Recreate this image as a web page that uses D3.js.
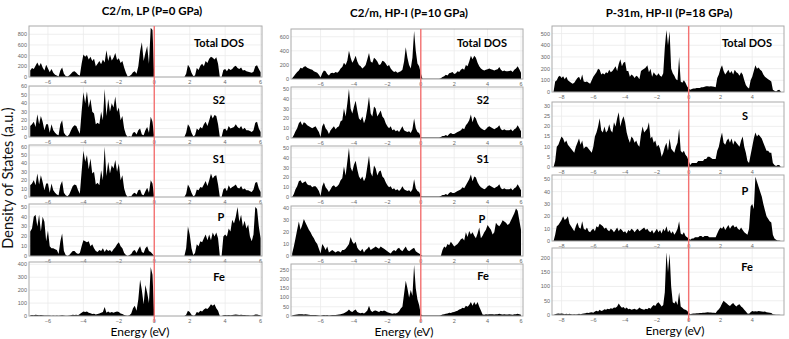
<!DOCTYPE html>
<html>
<head>
<meta charset="utf-8">
<script src="https://cdn.jsdelivr.net/npm/d3@7"></script>
<style>
  body { margin: 0; background: #fff; }
  svg text { font-family: Lato, "Open Sans", sans-serif; }
  .tick-lab { font-family: "Liberation Sans", sans-serif; font-size: 5.5px; fill: #666; }
</style>
</head>
<body>
<div id="root"></div>
<script>
// titles and labels
const colTitles = ["C2/m, LP (P=0 GPa)", "C2/m, HP-I (P=10 GPa)", "P-31m, HP-II (P=18 GPa)"];
const panelNames1 = ["Total DOS", "S2", "S1", "P", "Fe"];
const panelNames2 = ["Total DOS", "S2", "S1", "P", "Fe"];
const panelNames3 = ["Total DOS", "S", "P", "Fe"];
const yLabel = "Density of States (a.u.)";
const xLabel = "Energy (eV)";

// energy grid: first energy of each column, 0.1 eV step
const eStart = [-7.0, -7.7, -8.5];
const eStep = 0.1;

const xTicks1 = [-6, -4, -2, 0, 2, 4, 6];
const xTicks2 = [-6, -4, -2, 0, 2, 4, 6];
const xTicks3 = [-8, -6, -4, -2, 0, 2, 4];

const yTicks1 = [[0, 200, 400, 600, 800], [0, 10, 20, 30, 40, 50, 60], [0, 10, 20, 30, 40, 50, 60], [0, 10, 20, 30, 40, 50], [0, 100, 200, 300, 400]];
const yTicks2 = [[0, 200, 400, 600], [0, 10, 20, 30, 40, 50], [0, 10, 20, 30, 40, 50], [0, 10, 20, 30, 40], [0, 50, 100, 150, 200, 250]];
const yTicks3 = [[0, 100, 200, 300, 400, 500], [0, 5, 10, 15, 20, 25, 30], [0, 10, 20, 30, 40, 50], [0, 50, 100, 150, 200]];

// ---- column 1: C2/m LP, -7.0 .. 6.0 eV
const tdos1 = [120,170,150,210,270,200,260,180,120,230,
  160,90,150,80,40,30,10,120,180,60,
  20,10,30,60,100,110,80,40,30,250,
  420,380,410,330,380,300,340,200,250,300,
  240,330,270,500,300,420,310,360,450,320,
  350,260,300,180,80,10,20,40,90,110,
  60,200,480,650,300,450,580,250,920,880,
  0,
  0,0,0,0,0,0,0,0,0,0,0,0,0,0,0,0,0,
  60,230,180,80,20,30,170,130,210,250,
  200,300,260,340,380,360,330,370,250,0,
  0,130,150,110,160,130,150,190,210,170,
  150,180,120,130,110,100,90,80,100,200,
  220,150,90];
const s2dos1 = [13,15,18,12,27,15,25,18,8,15,
  15,5,15,8,5,3,2,15,20,5,
  2,1,3,8,12,14,13,8,4,30,
  53,40,54,35,45,30,28,15,17,15,
  30,20,57,25,45,30,40,35,48,30,
  35,20,25,10,3,0,1,0,5,6,
  3,8,10,3,2,8,12,5,24,18,
  0,
  0,0,0,0,0,0,0,0,0,0,0,0,0,0,0,0,0,
  5,15,12,5,1,2,10,8,12,10,
  15,18,13,20,27,22,26,25,15,0,
  0,9,10,7,13,10,11,12,15,12,
  10,13,9,11,8,8,7,6,8,17,
  18,10,6];
const s1dos1 = [14,16,20,14,28,15,26,18,8,16,
  16,5,16,8,5,3,2,14,19,5,
  2,1,3,8,13,15,14,8,4,30,
  55,42,50,33,46,28,30,15,17,14,
  32,20,60,25,42,28,38,34,44,30,
  40,20,26,10,3,0,1,1,4,5,
  3,8,9,3,2,7,11,5,20,16,
  0,
  0,0,0,0,0,0,0,0,0,0,0,0,0,0,0,0,0,
  4,15,11,5,1,2,9,8,12,11,
  15,19,13,20,28,22,25,26,15,0,
  0,9,11,7,14,10,12,13,15,11,
  10,13,9,10,8,8,7,6,9,17,
  18,10,6];
const pdos1 = [25,28,40,42,30,42,25,40,35,15,
  26,10,8,8,7,6,2,15,23,5,
  1,0,1,3,5,5,3,2,3,10,
  16,15,14,15,10,12,8,5,4,6,
  5,8,4,7,5,6,4,7,9,12,
  14,10,8,3,1,0,1,2,5,6,
  3,7,10,4,3,8,10,5,4,2,
  0,
  0,0,0,0,0,0,0,0,0,0,0,0,0,0,0,0,0,
  8,30,22,8,1,3,12,10,15,14,
  18,22,16,22,16,24,20,24,18,0,
  0,20,22,20,28,25,37,33,40,50,
  35,42,30,36,28,32,20,15,22,50,
  48,30,18];
const fedos1 = [5,8,6,10,8,6,8,5,4,3,
  4,3,2,3,2,3,2,4,5,3,
  2,2,4,6,10,8,10,6,15,25,
  35,30,35,25,22,15,18,12,15,20,
  25,30,70,25,35,25,30,25,30,35,
  30,20,15,8,3,2,5,20,60,80,
  40,130,280,200,90,240,180,100,380,320,
  0,
  0,0,0,0,0,0,0,0,0,0,0,0,0,0,0,0,0,
  10,40,30,10,2,5,30,25,40,35,
  50,60,55,70,90,80,90,60,40,0,
  0,5,8,5,7,6,8,10,12,10,
  8,10,8,7,6,5,4,4,6,12,
  12,8,5];

// ---- column 2: C2/m HP-I, -7.7 .. 6.0 eV
const tdos2 = [10,40,70,100,120,160,150,
  175,180,160,150,140,130,110,100,90,60,
  20,80,120,110,70,50,80,90,80,100,
  90,110,150,170,230,200,260,400,300,230,
  270,330,250,200,180,150,170,200,280,370,
  250,230,300,280,250,200,210,260,250,220,
  180,200,150,120,100,110,90,100,110,130,
  250,450,300,200,150,300,680,400,220,180,
  80,
  5,5,5,5,5,5,5,5,5,5,5,
  10,30,40,60,50,80,90,100,
  70,80,110,100,130,150,130,200,180,250,
  330,280,330,300,230,180,150,130,120,130,
  140,150,140,130,120,130,140,170,130,110,
  120,110,110,115,120,100,130,150,180,140,
  90];
const s2dos2 = [0,3,7,10,15,17,13,
  16,15,13,12,11,10,11,12,9,6,
  1,12,15,10,8,4,8,10,12,9,
  11,12,17,18,30,22,35,50,30,25,
  32,38,28,20,18,22,15,20,30,42,
  25,22,32,30,22,25,28,22,20,15,
  12,10,12,8,9,7,8,6,9,12,
  8,7,6,7,5,9,20,10,6,5,
  1,
  0.5,0.5,0.5,0.5,0.5,0.5,0.5,0.5,0.5,0.5,0.5,
  1,2,2,3,2,4,5,4,
  4,5,6,7,8,10,9,13,15,18,
  24,16,22,20,15,12,10,9,8,9,
  11,12,11,10,9,10,11,13,9,8,
  9,8,8,8,9,7,9,10,13,10,
  7];
const s1dos2 = [0,3,8,11,16,17,14,
  15,16,13,12,12,10,11,11,9,6,
  1,11,15,10,8,5,8,11,12,10,
  11,13,17,19,31,22,36,50,30,26,
  33,37,28,21,18,21,16,20,31,42,
  25,21,32,29,22,26,27,21,19,15,
  12,10,11,8,9,7,8,6,8,11,
  8,7,6,7,5,8,18,9,6,5,
  1,
  0.5,0.5,0.5,0.5,0.5,0.5,0.5,0.5,0.5,0.5,0.5,
  1,2,2,3,2,4,5,4,
  4,5,6,7,8,10,9,12,15,18,
  23,16,21,20,15,12,10,9,8,9,
  11,12,11,10,9,10,11,13,9,8,
  9,8,8,8,9,7,9,10,13,10,
  7];
const pdos2 = [2,8,15,22,29,22,26,
  31,28,25,22,20,17,15,12,10,6,
  2,10,8,5,8,3,4,5,4,3,
  4,4,3,5,5,6,8,10,16,12,
  10,12,7,5,4,6,3,5,6,8,
  5,6,7,8,7,6,8,7,6,5,
  4,3,2,4,5,4,6,7,5,4,
  6,8,5,4,5,6,7,4,3,2,
  1,
  0,0,0,0,0,0,0,0,0,0,0,
  0,5,8,7,10,9,12,10,
  8,9,10,12,14,15,13,20,16,21,
  18,20,17,15,19,24,15,17,20,22,
  26,24,22,18,20,28,26,25,27,30,
  29,28,26,27,30,33,36,40,38,30,
  22];
const fedos2 = [3,5,7,8,9,10,9,
  8,10,8,7,6,5,6,5,4,3,
  2,4,5,4,5,3,4,5,6,5,
  7,8,10,12,15,20,25,35,25,22,
  30,35,22,18,15,18,14,20,30,55,
  30,22,28,30,25,22,28,25,30,25,
  20,18,15,12,15,14,18,25,40,50,
  120,190,150,100,140,110,275,150,90,60,
  10,
  3,3,3,3,3,3,3,3,3,3,3,
  4,8,10,12,14,18,16,20,
  22,25,28,35,38,45,42,55,50,60,
  75,55,75,60,75,50,30,8,7,9,
  8,10,9,10,8,9,10,12,9,8,
  9,8,8,9,8,7,9,10,12,10,
  7];

// ---- column 3: P-31m HP-II, -8.5 .. 5.8 eV
const tdos3 = [5,90,100,130,140,
  120,135,110,130,100,90,80,70,80,100,
  120,130,100,150,90,85,90,80,70,100,
  130,150,170,200,190,150,160,150,170,160,
  190,170,180,200,220,180,240,280,220,250,
  260,180,180,130,150,140,120,140,130,110,
  180,190,200,210,230,170,200,130,170,150,
  140,160,140,130,160,380,530,400,520,200,
  160,140,110,100,300,90,80,100,80,50,
  30,20,25,30,30,35,35,35,40,40,
  45,50,50,48,50,48,45,40,120,150,
  200,230,180,150,170,190,160,180,150,190,
  170,160,140,170,150,100,60,40,30,100,
  130,180,230,200,210,190,180,150,130,120,
  110,100,90,20,10,5,15,20,5];
const sdos3 = [0,3,10,11,13,
  15,14,12,13,11,10,9,8,7,10,
  12,14,11,13,9,10,10,9,8,7,
  10,15,17,20,24,18,17,20,17,18,
  21,18,17,22,20,24,27,20,23,25,
  22,17,14,12,15,14,12,13,11,10,
  16,20,17,18,19,22,14,15,12,13,
  10,11,9,5,7,10,12,8,14,9,
  8,7,10,12,19,8,7,8,6,5,
  3,1,2,2,2,2,3,3,3,3,
  4,4,5,5,4.5,4,4,4,8,10,
  14,17,12,11,13,14,12,14,11,13,
  12,11,10,13,15,10,7,3,2,6,
  10,14,17,15,16,15,14,12,10,8,
  8,7,7,2,1,0.5,1,1,0];
const pdos3 = [0,5,12,13,15,
  17,20,17,18,20,14,12,10,8,12,
  15,11,10,16,10,9,11,8,7,9,
  10,8,12,11,14,13,12,10,11,9,
  8,10,9,7,9,11,8,10,9,7,
  8,6,9,8,10,9,7,9,10,8,
  9,10,11,9,10,8,7,9,6,8,
  10,7,9,6,10,8,12,7,9,6,
  8,5,7,10,16,6,5,7,4,3,
  2,1,2,2,3,3,3,4,4,3,
  4,4,4,3,3,3,3,3,6,9,
  11,10,12,9,11,13,10,12,13,11,
  12,10,9,11,9,7,6,5,10,28,
  30,26,52,48,44,40,36,30,25,20,
  18,16,15,5,2,1,0.5,0.5,0];
const fedos3 = [0,3,4,5,4,
  5,4,3,4,3,4,3,2,3,2,
  3,4,3,4,5,6,8,7,9,10,
  8,12,15,12,18,14,16,20,18,22,
  20,24,22,26,25,30,40,32,25,28,
  22,26,20,22,18,20,22,18,20,26,
  22,20,18,22,20,25,22,30,35,32,
  40,45,38,30,35,80,220,150,215,100,
  45,40,50,35,80,30,25,20,18,15,
  8,3,4,5,5,6,6,7,7,8,
  8,9,10,9,9,8,8,7,15,20,
  28,40,50,45,40,35,32,38,42,35,
  30,35,38,30,25,18,12,5,4,10,
  14,12,13,12,14,13,12,11,12,10,
  9,8,7,3,2,1,1,1,0];

const width = 789, height = 339;

// layout (pixels) for each column and panel
const columns = [
  {title: colTitles[0], e0: eStart[0], xDom: [-7.07, 6.08], left: 29, right: 262, xTicks: xTicks1,
   titleX: 152, titleY: 15, xLabX: 140, xLabY: 336,
   panels: [
     {name: panelNames1[0], data: tdos1, yMax: 955, yTicks: yTicks1[0], top: 26, bottom: 77, lx: 219, ly: 47},
     {name: panelNames1[1], data: s2dos1, yMax: 60.5, yTicks: yTicks1[1], top: 86, bottom: 137, lx: 219, ly: 104},
     {name: panelNames1[2], data: s1dos1, yMax: 62, yTicks: yTicks1[2], top: 145, bottom: 197, lx: 219, ly: 163},
     {name: panelNames1[3], data: pdos1, yMax: 53, yTicks: yTicks1[3], top: 204, bottom: 256, lx: 221, ly: 221},
     {name: panelNames1[4], data: fedos1, yMax: 418, yTicks: yTicks1[4], top: 262, bottom: 316, lx: 219, ly: 281}
   ]},
  {title: colTitles[1], e0: eStart[1], xDom: [-7.77, 6.12], left: 291, right: 523, xTicks: xTicks2,
   titleX: 409, titleY: 17, xLabX: 404, xLabY: 336,
   panels: [
     {name: panelNames2[0], data: tdos2, yMax: 710, yTicks: yTicks2[0], top: 29, bottom: 79, lx: 482, ly: 47},
     {name: panelNames2[1], data: s2dos2, yMax: 52, yTicks: yTicks2[1], top: 87, bottom: 138, lx: 483, ly: 104},
     {name: panelNames2[2], data: s1dos2, yMax: 52, yTicks: yTicks2[2], top: 146, bottom: 197, lx: 483, ly: 163},
     {name: panelNames2[3], data: pdos2, yMax: 42, yTicks: yTicks2[3], top: 206, bottom: 256, lx: 482, ly: 223},
     {name: panelNames2[4], data: fedos2, yMax: 281, yTicks: yTicks2[4], top: 264, bottom: 316, lx: 483, ly: 280}
   ]},
  {title: colTitles[2], e0: eStart[2], xDom: [-8.6, 6.0], left: 552, right: 784, xTicks: xTicks3,
   titleX: 669, titleY: 17, xLabX: 675, xLabY: 335,
   panels: [
     {name: panelNames3[0], data: tdos3, yMax: 565, yTicks: yTicks3[0], top: 26, bottom: 92, lx: 747, ly: 47},
     {name: panelNames3[1], data: sdos3, yMax: 32, yTicks: yTicks3[1], top: 102, bottom: 167, lx: 745, ly: 120},
     {name: panelNames3[2], data: pdos3, yMax: 53.5, yTicks: yTicks3[2], top: 175, bottom: 241, lx: 745, ly: 195},
     {name: panelNames3[3], data: fedos3, yMax: 235, yTicks: yTicks3[3], top: 248, bottom: 315, lx: 747, ly: 271}
   ]}
];

const fmt = d3.format("");

const svg = d3.select("#root").append("svg")
    .attr("width", width)
    .attr("height", height);

// common y label
svg.append("text")
    .attr("transform", "translate(13,178) rotate(-90)")
    .attr("text-anchor", "middle")
    .style("font-size", "14.5px")
    .style("fill", "#111")
    .text(yLabel);

columns.forEach((col, ci) => {
    const x = d3.scaleLinear().domain(col.xDom).range([col.left, col.right]);
    const g = svg.append("g");

    g.append("text")
        .attr("x", col.titleX)
        .attr("y", col.titleY)
        .attr("text-anchor", "middle")
        .style("font-size", "11.5px")
        .style("font-weight", "bold")
        .text(col.title);

    col.panels.forEach((p, pi) => {
        const y = d3.scaleLinear().domain([0, p.yMax]).range([p.bottom, p.top]);
        const pts = p.data.map((v, i) => ({e: col.e0 + i * eStep, v: v}));
        const clipId = "clip" + ci + "_" + pi;

        g.append("clipPath").attr("id", clipId)
            .append("rect")
            .attr("x", col.left).attr("y", p.top)
            .attr("width", col.right - col.left).attr("height", p.bottom - p.top);

        // grid
        g.append("g").selectAll("line")
            .data(col.xTicks)
            .enter().append("line")
            .attr("x1", d => x(d)).attr("x2", d => x(d))
            .attr("y1", p.top).attr("y2", p.bottom)
            .attr("stroke", "#ebebeb").attr("stroke-width", 0.8);
        g.append("g").selectAll("line")
            .data(p.yTicks)
            .enter().append("line")
            .attr("x1", col.left).attr("x2", col.right)
            .attr("y1", d => y(d)).attr("y2", d => y(d))
            .attr("stroke", "#ebebeb").attr("stroke-width", 0.8);

        const area = d3.area()
            .x(d => x(d.e))
            .y0(y(0))
            .y1(d => y(d.v));

        g.append("path")
            .datum(pts)
            .attr("clip-path", "url(#" + clipId + ")")
            .attr("d", area)
            .attr("fill", "#000");

        // frame
        g.append("rect")
            .attr("x", col.left).attr("y", p.top)
            .attr("width", col.right - col.left).attr("height", p.bottom - p.top)
            .attr("fill", "none")
            .attr("stroke", "#aaa")
            .attr("stroke-width", 1);

        // y tick labels
        g.append("g").selectAll("text")
            .data(p.yTicks)
            .enter().append("text")
            .attr("class", "tick-lab")
            .attr("x", col.left - 2)
            .attr("y", d => y(d))
            .attr("dy", "0.35em")
            .attr("text-anchor", "end")
            .text(d => fmt(d));

        // x tick labels
        g.append("g").selectAll("text")
            .data(col.xTicks)
            .enter().append("text")
            .attr("class", "tick-lab")
            .attr("x", d => x(d))
            .attr("y", p.bottom + 7)
            .attr("text-anchor", "middle")
            .text(d => d < 0 ? "\u2212" + Math.abs(d) : d);

        g.append("text")
            .attr("x", p.lx)
            .attr("y", p.ly)
            .attr("text-anchor", "middle")
            .style("font-size", "11px")
            .style("font-weight", "bold")
            .text(p.name);
    });

    // Fermi level
    const first = col.panels[0], last = col.panels[col.panels.length - 1];
    g.append("line")
        .attr("x1", x(0)).attr("x2", x(0))
        .attr("y1", first.top).attr("y2", last.bottom + 6)
        .attr("stroke", "#f47272")
        .attr("stroke-width", 1.4);

    g.append("text")
        .attr("x", col.xLabX)
        .attr("y", col.xLabY)
        .attr("text-anchor", "middle")
        .style("font-size", "12px")
        .text(xLabel);
});
</script>
</body>
</html>
